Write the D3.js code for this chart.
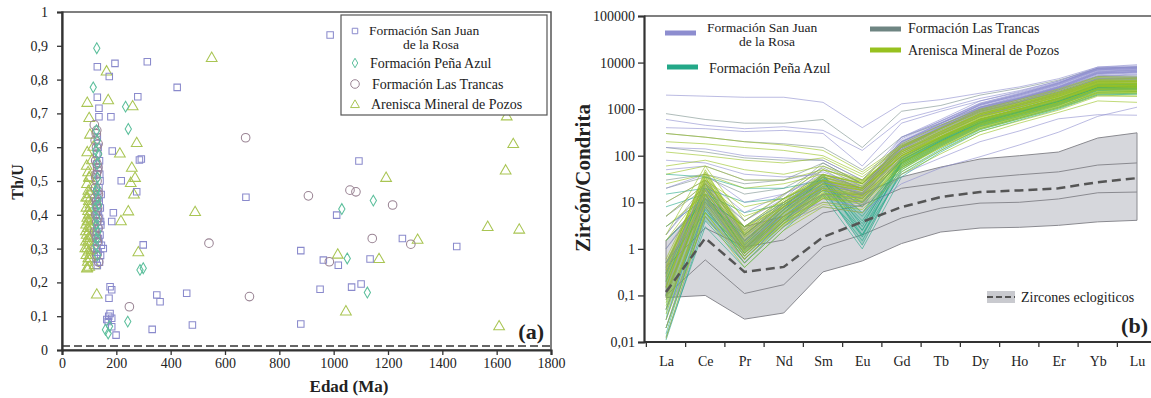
<!DOCTYPE html>
<html><head><meta charset="utf-8">
<script src="https://cdn.jsdelivr.net/npm/d3@7"></script>
<style>body{margin:0;background:#fff} text{font-family:"Liberation Serif","Times New Roman",serif;fill:#222}</style>
</head><body><svg id="c" width="1151" height="398"></svg>
<script>
// ---------------- Panel (a) data: [Edad (Ma), Th/U] ----------------
const ageTicks = [0,200,400,600,800,1000,1200,1400,1600,1800];
const thuTicks = [0,0.1,0.2,0.3,0.4,0.5,0.6,0.7,0.8,0.9,1];
const sanJuanPts = [[130,0.25],[138,0.26],[126,0.27],[142,0.28],[133,0.29],[128,0.30],[145,0.31],[136,0.32],[130,0.33],[140,0.34],[127,0.35],[135,0.36],[143,0.37],[131,0.38],[138,0.39],[126,0.40],[134,0.41],[141,0.42],[129,0.43],[137,0.44],[132,0.45],[144,0.46],[128,0.47],[136,0.48],[140,0.50],[130,0.52],[135,0.54],[138,0.56],[128,0.58],[133,0.60],[130,0.63],[152,0.30],
 [125,0.44],[139,0.52],[127,0.55],[142,0.38],[134,0.33],[129,0.41],
 [130,0.838],[195,0.848],[314,0.853],[174,0.809],[130,0.748],[279,0.749],[136,0.715],[136,0.69],[180,0.69],[185,0.589],[285,0.562],[292,0.565],[218,0.501],[275,0.468],[189,0.406],[183,0.38],[299,0.311],[177,0.187],[183,0.178],[173,0.153],[349,0.163],[361,0.143],[177,0.108],[183,0.094],[170,0.084],[183,0.069],[332,0.061],[199,0.044],[987,0.932],[424,0.777],[1093,0.559],[677,0.452],[1011,0.399],[1253,0.33],[1453,0.306],[879,0.294],[962,0.266],[1017,0.251],[1134,0.269],[459,0.168],[950,0.18],[1066,0.186],[1101,0.195],[480,0.074],[879,0.077],[165,0.09],[172,0.10]];
const penaAzulPts = [[125,0.31],[132,0.35],[128,0.39],[135,0.43],[126,0.47],[131,0.51],[129,0.55],[124,0.59],[130,0.62],[127,0.65],[133,0.45],[126,0.37],
 [122,0.42],[130,0.48],[135,0.58],[128,0.33],[131,0.28],
 [128,0.893],[115,0.777],[234,0.72],[244,0.654],[287,0.237],[299,0.242],[242,0.084],[170,0.049],[175,0.07],[1146,0.442],[1030,0.417],[1050,0.271],[1124,0.17],[160,0.06]];
const lasTrancasPts = [[122,0.30],[130,0.32],[125,0.34],[133,0.36],[128,0.38],[124,0.40],[131,0.42],[127,0.44],[134,0.46],[123,0.48],[129,0.50],[126,0.52],[132,0.54],[124,0.56],[130,0.58],[127,0.60],[122,0.62],[126,0.64],[119,0.666],[128,0.28],[135,0.26],[131,0.53],
 [120,0.35],[126,0.43],[132,0.47],[124,0.51],[129,0.55],[133,0.61],[128,0.65],[121,0.45],[127,0.33],[131,0.39],
 [248,0.128],[676,0.628],[907,0.456],[1060,0.473],[1082,0.468],[1217,0.429],[541,0.316],[1142,0.33],[1284,0.313],[984,0.261],[690,0.158]];
const pozosPts = [[92,0.24],[100,0.245],[95,0.26],[105,0.27],[90,0.28],[98,0.29],[108,0.295],[93,0.30],[102,0.31],[88,0.32],[97,0.33],[106,0.335],[91,0.34],[100,0.35],[95,0.36],[104,0.365],[89,0.37],[98,0.38],[108,0.385],[93,0.39],[101,0.40],[96,0.41],[90,0.42],[105,0.43],[99,0.44],[94,0.45],[102,0.46],[97,0.47],[110,0.48],[92,0.49],[100,0.51],[96,0.525],[91,0.544],[100,0.508],[93,0.584],[103,0.636],[100,0.685],[93,0.73],[128,0.163],[93,0.242],[120,0.25],[115,0.60],[110,0.56],
 [86,0.30],[103,0.28],[96,0.32],[88,0.35],[107,0.36],[94,0.38],[104,0.42],[89,0.45],[99,0.40],[97,0.27],
 [164,0.823],[170,0.738],[260,0.72],[275,0.611],[213,0.58],[257,0.538],[269,0.508],[253,0.493],[265,0.459],[244,0.409],[217,0.38],[281,0.288],[551,0.863],[1193,0.508],[490,0.407],[1309,0.325],[1567,0.363],[1683,0.355],[1637,0.69],[1661,0.608],[1633,0.53],[1015,0.281],[1167,0.268],[1045,0.113],[1609,0.069]];
const thuLimit = 0.012;

// ---------------- Panel (b) data: chondrite-normalised REE ----------------
const elements = ["La","Ce","Pr","Nd","Sm","Eu","Gd","Tb","Dy","Ho","Er","Yb","Lu"];
const reeTicks = [0.01,0.1,1,10,100,1000,10000,100000];
const sanJuanREE = [
 [2000,1900,1800,1800,1400,400,1300,1600,2200,3000,4500,8000,9000],
 [600,450,380,420,350,130,600,1000,1700,2500,4000,7500,8000],
 [400,380,330,350,300,60,500,900,1500,2300,3800,7000,7500],
 [0.1,20,1,7,25,15,150,400,1000,1700,2900,6000,6500],
 [0.05,12,0.8,5,18,10,120,350,900,1500,2700,5500,6000],
 [0.3,30,2,10,35,20,200,500,1200,2000,3400,7000,7500],
 [1,15,2,8,20,12,130,380,950,1600,2800,5800,6200],
 [0.02,8,0.5,3,12,8,100,300,800,1400,2500,5000,5500],
 [5,25,4,12,30,18,180,450,1100,1800,3100,6500,7000],
 [80,70,40,35,40,20,160,420,1050,1700,3000,6200,6800],
 [0.15,18,1.2,6,22,14,160,420,1100,1900,3300,6800,7200],
 [0.5,10,1.5,5,15,9,90,260,700,1200,2200,4500,4800],
 [10,30,6,15,40,20,250,600,1500,2400,4000,8000,8500],
 [0.5,8,1,4,8,6,25,55,95,170,320,700,1100],
 [0.012,5,0.6,4,15,9,110,330,850,1450,2600,5200,5700],
 [50,60,30,30,45,22,170,430,1050,1750,3000,6300,6900],
 [0.4,9,1,5,10,8,40,90,200,340,620,760,740],
 [3,12,2.5,9,28,16,190,480,1250,2100,3600,7600,8200],
 [0.03,15,0.7,5,20,12,140,380,950,1600,2800,5800,6300],
 [20,40,10,15,35,18,200,500,1250,2000,3500,7200,7800],
 [0.08,25,1.5,8,30,16,230,560,1350,2200,3700,7600,8000],
 [150,140,100,90,80,30,250,550,1300,2100,3600,7300,7700],
 [2,20,3,10,28,15,150,400,1000,1650,2900,6000,6400]];
const penaAzulREE = [
 [0.015,8,0.6,4,20,1.2,50,160,420,700,1200,2500,2600],
 [0.03,12,0.8,6,30,2,70,200,500,850,1400,2900,3000],
 [0.1,15,1,7,35,2.5,80,230,560,900,1500,3000,3100],
 [0.02,5,0.5,3.5,18,1.5,45,140,380,650,1100,2300,2400],
 [0.3,20,1.5,8,40,3,90,250,600,1000,1700,3300,3400],
 [1.5,10,2,9,30,4,70,210,520,880,1500,3000,3100],
 [0.05,7,0.7,4,25,5,60,180,460,780,1300,2700,2800],
 [3,12,3,10,35,8,90,240,600,1000,1700,3400,3500],
 [0.011,4,0.5,3,15,2,40,130,360,620,1050,2100,2200],
 [40,35,20,20,30,10,80,220,550,900,1500,3000,3100],
 [0.2,25,1.2,7,30,1.8,75,210,520,870,1450,2900,3000],
 [15,20,10,12,30,6,70,200,500,850,1450,2900,3000],
 [0.5,6,1,5,22,2.5,55,170,440,740,1250,2600,2700],
 [8,15,6,9,28,3.5,65,190,480,800,1350,2750,2850],
 [0.013,3,0.4,2.5,14,1,35,120,330,580,1000,2000,2100]];
const lasTrancasREE = [
 [0.1,15,1,6,25,15,100,280,700,1150,1900,3800,3800],
 [0.5,20,1.5,8,40,20,130,330,800,1300,2200,4300,4300],
 [2,25,3,12,60,25,150,380,900,1400,2400,4600,4600],
 [0.05,10,0.8,5,20,12,90,250,620,1050,1750,3500,3500],
 [150,120,90,80,80,30,200,450,1000,1600,2600,5000,5000],
 [0.3,30,2,10,50,18,120,310,750,1250,2100,4100,4100],
 [5,20,4,14,70,25,160,400,950,1500,2600,4800,4800],
 [0.02,8,0.6,4,18,10,80,220,560,950,1600,3200,3200],
 [800,600,500,500,600,150,900,1200,2000,2800,4200,7500,8000],
 [30,40,25,30,70,25,150,380,900,1450,2400,4500,4500],
 [1,12,1.5,7,30,14,110,290,720,1200,2000,3900,3900],
 [20,35,15,20,55,22,140,360,860,1400,2300,4400,4400],
 [300,250,200,180,150,50,250,500,1100,1700,2800,5200,5200]];
const pozosREE = [
 [0.08,15,0.9,5,15,12,70,200,500,800,1400,2800,2800],
 [0.15,25,1.2,7,20,15,90,250,600,1000,1700,3300,3200],
 [0.05,8,0.6,3.5,10,8,50,150,380,650,1100,2200,2300],
 [0.3,40,2,10,30,20,120,300,750,1200,2000,3800,3600],
 [0.12,12,0.8,4,12,10,60,170,420,700,1200,2400,2400],
 [0.5,30,2.5,12,40,25,150,380,900,1400,2300,4300,4200],
 [0.03,6,0.5,3,9,7,45,130,330,560,950,1900,1900],
 [1.5,20,3,12,30,18,100,260,650,1100,1900,3600,3500],
 [0.2,18,1,6,18,14,80,220,550,900,1500,3000,3000],
 [0.07,10,0.7,4.5,14,11,65,180,450,750,1300,2600,2500],
 [2,60,4,15,50,30,180,450,1000,1600,2700,5000,4800],
 [0.1,22,1.1,6,22,16,100,240,520,850,1400,2700,2700],
 [0.04,14,0.8,5,16,12,75,190,460,760,1250,2300,2400],
 [200,180,150,130,100,40,160,350,800,1300,2200,4000,3900],
 [60,80,50,40,60,30,130,300,700,1100,1900,3600,3500],
 [25,40,20,25,40,25,110,260,600,1000,1700,3200,3100],
 [0.6,35,1.5,8,25,18,110,280,680,1100,1800,3400,3300],
 [0.25,28,1.3,9,28,20,120,320,800,1300,2100,4000,3900],
 [0.02,5,0.4,2.5,8,6,40,110,280,500,850,1500,1400],
 [120,100,80,70,90,35,150,330,750,1200,2000,3700,3600],
 [10,30,8,12,35,20,100,250,600,1000,1700,3200,3200],
 [5,25,5,10,30,20,95,240,580,950,1600,3100,3000],
 [0.012,6,0.6,3.5,12,9,55,160,400,680,1150,2200,2200],
 [0.35,50,2,9,35,22,130,330,780,1250,2100,3900,3800],
 [0.09,18,1,5,18,13,85,230,560,920,1550,3000,2900],
 [0.15,35,1.8,8,25,18,100,260,620,1000,1650,3100,3000],
 [40,60,30,30,50,28,120,290,680,1100,1850,3500,3400],
 [300,250,200,170,130,45,170,380,850,1350,2300,4200,4100],
 [3,15,3,8,20,14,70,190,480,800,1350,2600,2600],
 [0.06,9,0.7,4,13,10,55,150,370,620,1050,2000,1900],
 [0.4,45,2.2,11,38,26,160,400,950,1500,2500,4700,4500]];
const pozosCoreLow  = [0.1,10,0.8,3,12,10,55,150,380,620,1050,2000,2000];
const pozosCoreHigh = [0.5,45,3,10,40,30,140,350,850,1350,2300,4200,4200];
const sanJuanCoreLow  = [0.08,10,0.9,5,18,12,130,380,950,1600,2800,5500,6000];
const sanJuanCoreHigh = [0.5,25,2,9,35,20,220,560,1350,2200,3800,7800,8200];
const penaCoreLow  = [0.03,4,0.8,4,20,1.2,50,160,420,700,1200,2500,2600];
const penaCoreHigh = [0.3,15,1.5,8,40,6,90,250,620,1000,1700,3400,3500];
const eclUpper     = [1.5,12,3,5,15,15,35,57,85,100,120,240,310];
const eclInnerHigh = [0.41,2.8,1.1,1.55,5.9,8.7,20,26,33,39,45,63,70];
const eclMedian    = [0.118,1.7,0.32,0.41,1.8,3.8,7.9,13,16.6,18,20,27,33];
const eclInnerLow  = [0.1,0.58,0.11,0.17,1.1,2.0,4.6,7.5,9.6,10,11.8,16,16.6];
const eclLower     = [0.09,0.1,0.031,0.042,0.32,0.55,1.3,2.3,2.8,2.9,3.2,3.8,4.1];

// ---------------- drawing ----------------
const svg = d3.select("#c");
const C = {sj:"#8a8acc", pa:"#5cbf9c", lt:"#9a8494", mp:"#a9c553"};
const L = {sj:"#8d8dcf", pa:"#23a888", lt:"#6e8582", mp:"#97c11f"};

// Panel (a)
const xA = d3.scaleLinear().domain([0,1800]).range([62,551]);
const yA = d3.scaleLinear().domain([0,1]).range([350,12]);
const gA = svg.append("g");
gA.append("rect").attr("x",xA(0)).attr("y",yA(1)).attr("width",xA(1800)-xA(0)).attr("height",yA(0)-yA(1))
  .attr("fill","none").attr("stroke","#555").attr("stroke-width",1.5);
gA.append("line").attr("x1",xA(0)).attr("x2",xA(1800)).attr("y1",yA(thuLimit)).attr("y2",yA(thuLimit))
  .attr("stroke","#666").attr("stroke-width",2).attr("stroke-dasharray","8,4");
const ax = gA.append("g").attr("transform",`translate(0,${yA(0)})`)
  .call(d3.axisBottom(xA).tickValues(ageTicks).tickSize(5).tickPadding(3).tickFormat(d3.format("d")));
const ay = gA.append("g").attr("transform",`translate(${xA(0)},0)`)
  .call(d3.axisLeft(yA).tickValues(thuTicks).tickSize(5).tickPadding(9)
    .tickFormat(d=> d===0?"0":d===1?"1":d.toFixed(1).replace(".",",")));
[ax,ay].forEach(a=>{a.selectAll("path").attr("stroke","#333").attr("stroke-width",2.2);
  a.selectAll("line").attr("stroke","#333").attr("stroke-width",1.3);
  a.selectAll("text").attr("font-size",14).attr("font-family","Liberation Serif").attr("fill","#222");});

const symSq = d3.symbol().type(d3.symbolSquare).size(42);
const symDi = d3.symbol().type(d3.symbolDiamond).size(34);
const symTr = d3.symbol().type(d3.symbolTriangle).size(50);
function pts(data, path, col){
  gA.append("g").selectAll("path").data(data).join("path")
    .attr("transform",d=>`translate(${xA(d[0])},${yA(d[1])})`).attr("d",path)
    .attr("fill","none").attr("stroke",col).attr("stroke-width",1.05);
}
pts(pozosPts, symTr(), C.mp);
pts(sanJuanPts, symSq(), C.sj);
gA.append("g").selectAll("circle").data(lasTrancasPts).join("circle")
  .attr("cx",d=>xA(d[0])).attr("cy",d=>yA(d[1])).attr("r",4.3)
  .attr("fill","none").attr("stroke",C.lt).attr("stroke-width",1.05);
pts(penaAzulPts, symDi(), C.pa);

// legend (a)
const lg = gA.append("g");
lg.append("rect").attr("x",341).attr("y",15).attr("width",206).attr("height",100)
  .attr("fill","#fff").attr("stroke","#555").attr("stroke-width",1.2);
const legA = [
 {p:d3.symbol().type(d3.symbolSquare).size(30)(), c:C.sj, y:31, ty:35, t:["Formación San Juan","de la Rosa"], tx:369},
 {p:d3.symbol().type(d3.symbolDiamond).size(26)(), c:C.pa, y:63, ty:68, t:["Formación Peña Azul"], tx:370},
 {p:null, c:C.lt, y:84, ty:89, t:["Formación Las Trancas"], tx:372},
 {p:d3.symbol().type(d3.symbolTriangle).size(34)(), c:C.mp, y:105, ty:109, t:["Arenisca Mineral de Pozos"], tx:371}];
legA.forEach(e=>{
  if(e.p) lg.append("path").attr("d",e.p).attr("transform",`translate(355,${e.y})`).attr("fill","none").attr("stroke",e.c);
  else lg.append("circle").attr("cx",355).attr("cy",e.y).attr("r",4.3).attr("fill","none").attr("stroke",e.c);
  lg.append("text").attr("x",e.tx).attr("y",e.ty).attr("font-size",e.t[1]?13.5:14).text(e.t[0]);
  if(e.t[1]) lg.append("text").attr("x",431).attr("y",e.ty+14).attr("text-anchor","middle").attr("font-size",13.5).text(e.t[1]);
});
gA.append("text").attr("transform","translate(23,182) rotate(-90)").attr("text-anchor","middle")
  .attr("font-size",16).attr("font-weight","bold").text("Th/U");
gA.append("text").attr("x",349).attr("y",392).attr("text-anchor","middle")
  .attr("font-size",17).attr("font-weight","bold").text("Edad (Ma)");
gA.append("text").attr("x",544).attr("y",339).attr("text-anchor","end")
  .attr("font-size",22).attr("font-weight","bold").text("(a)");

// Panel (b)
const xB = d3.scalePoint().domain(elements).range([666,1137]);
const step = xB.step();
const yB = d3.scaleLog().domain([0.01,100000]).range([342,16]);
const gB = svg.append("g");
const line = d3.line().x((d,i)=>xB(elements[i])).y(d=>yB(d));
const area = (lo,hi)=> d3.area().x((d,i)=>xB(elements[i])).y0((d,i)=>yB(lo[i])).y1((d,i)=>yB(hi[i]))(elements);

gB.append("path").attr("d",area(eclLower,eclUpper)).attr("fill","#d6d7dc").attr("stroke","#8a8a90").attr("stroke-width",1);
[eclInnerHigh,eclInnerLow].forEach(a=>gB.append("path").attr("d",line(a)).attr("fill","none").attr("stroke","#8a8a90").attr("stroke-width",1));

gB.append("path").attr("d",area(penaCoreLow,penaCoreHigh)).attr("fill",L.pa).attr("opacity",0.3);
gB.append("path").attr("d",area(sanJuanCoreLow,sanJuanCoreHigh)).attr("fill",L.sj).attr("opacity",0.35);
gB.append("path").attr("d",area(pozosCoreLow,pozosCoreHigh)).attr("fill",L.mp).attr("opacity",0.35);

function lines(data,col,op){
  gB.append("g").selectAll("path").data(data).join("path").attr("d",line)
    .attr("fill","none").attr("stroke",col).attr("stroke-width",1).attr("opacity",op);
}
lines(lasTrancasREE, L.lt, 0.55);
lines(penaAzulREE, L.pa, 0.6);
lines(sanJuanREE, L.sj, 0.6);
lines(pozosREE, L.mp, 0.6);
gB.append("path").attr("d",line(eclMedian)).attr("fill","none").attr("stroke","#555").attr("stroke-width",2.5).attr("stroke-dasharray","9,5");

// frame & axes (b)
gB.append("line").attr("x1",644).attr("x2",1151).attr("y1",16).attr("y2",16).attr("stroke","#555").attr("stroke-width",1.5);
const byA = gB.append("g").attr("transform","translate(644,0)")
  .call(d3.axisLeft(yB).tickValues(reeTicks).tickSize(6).tickPadding(3)
   .tickFormat(d=> d>=1 ? d3.format("d")(d) : String(d).replace(".",",")));
const bxA = gB.append("g").attr("transform","translate(0,342)")
  .call(d3.axisBottom(xB).tickSize(0).tickPadding(14));
bxA.select("path").attr("d","M644,0H1151");
bxA.append("g").selectAll("line").data(elements).join("line")
  .attr("x1",d=>xB(d)-step/2).attr("x2",d=>xB(d)-step/2).attr("y1",0).attr("y2",5);
bxA.append("line").attr("x1",xB("Lu")-step/2+step).attr("x2",xB("Lu")-step/2+step).attr("y1",0).attr("y2",5);
[byA,bxA].forEach(a=>{a.selectAll("path").attr("stroke","#333").attr("stroke-width",2.2);
  a.selectAll("line").attr("stroke","#333").attr("stroke-width",1.3);
  a.selectAll("text").attr("font-size",14).attr("font-family","Liberation Serif").attr("fill","#222");});

gB.append("text").attr("transform","translate(590,178) rotate(-90)").attr("text-anchor","middle")
  .attr("font-size",21).attr("font-weight","bold").text("Zircón/Condrita");

// legend (b)
const legB = [
 {x:665,y:33,c:L.sj,t:["Formación San Juan","de la Rosa"],tx:707,ty:32,cx:767},
 {x:667,y:67,c:L.pa,t:["Formación Peña Azul"],tx:709,ty:73},
 {x:870,y:29,c:L.lt,t:["Formación Las Trancas"],tx:908,ty:33},
 {x:870,y:50,c:L.mp,t:["Arenisca Mineral de Pozos"],tx:908,ty:55}];
legB.forEach(e=>{
  gB.append("line").attr("x1",e.x).attr("x2",e.x+31).attr("y1",e.y).attr("y2",e.y).attr("stroke",e.c).attr("stroke-width",5);
  gB.append("text").attr("x",e.tx).attr("y",e.ty).attr("font-size",e.t[1]?13.5:14).text(e.t[0]);
  if(e.t[1]) gB.append("text").attr("x",e.cx).attr("y",e.ty+14).attr("text-anchor","middle").attr("font-size",13.5).text(e.t[1]);
});
gB.append("rect").attr("x",987).attr("y",291).attr("width",28).attr("height",12).attr("fill","#c9cacf");
gB.append("line").attr("x1",987).attr("x2",1015).attr("y1",297).attr("y2",297).attr("stroke","#555").attr("stroke-width",2).attr("stroke-dasharray","6,3");
gB.append("text").attr("x",1021).attr("y",302).attr("font-size",14).text("Zircones eclogiticos");
gB.append("text").attr("x",1148).attr("y",333).attr("text-anchor","end").attr("font-size",22).attr("font-weight","bold").text("(b)");
</script></body></html>
